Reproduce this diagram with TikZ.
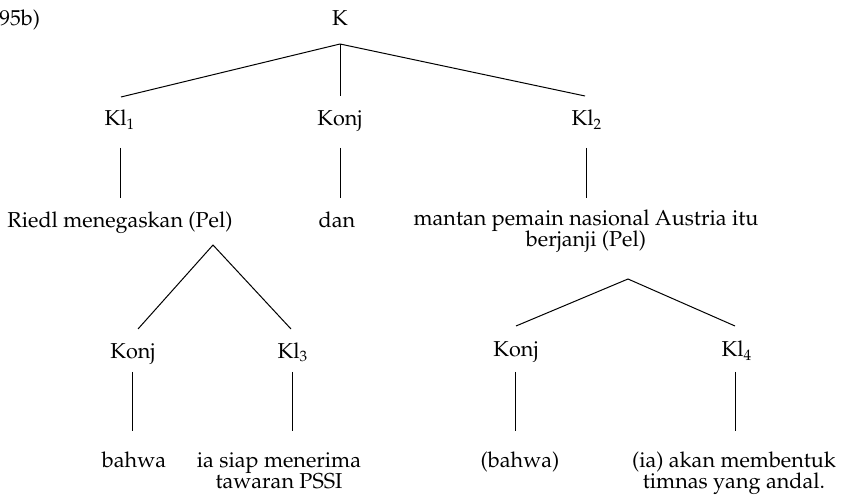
\documentclass[tikz,border=0pt]{standalone}
\usepackage[T1]{fontenc}
\renewcommand\rmdefault{ppl}
\usetikzlibrary{calc}
\lineskiplimit=-100pt
\begin{document}
\begin{tikzpicture}[x=0.5pt,y=-0.5pt,
  lab/.style={inner sep=0pt, anchor=base, font=\fontsize{10.8}{10.5}\selectfont},
  two/.style={lab, align=center},
  edge/.style={line width=0.5pt}]
\useasboundingbox (0,0) rectangle (841,497);
\node[lab, anchor=base west] (ex) at (-1,26) {95b)};
\node[lab] (K) at (340,26) {K};
\node[lab] (Kl1) at (120,126) {Kl\textsubscript{1}};
\node[lab] (Konj1) at (340,126) {Konj};
\node[lab] (Kl2) at (587,126) {Kl\textsubscript{2}};
\node[lab] (R1) at (120,228) {Riedl menegaskan (Pel)};
\node[lab] (dan) at (337,228) {dan};
\node[two] (A2) at (586,247) {mantan pemain nasional Austria itu\\berjanji (Pel)};
\node[lab] (Konj2) at (133,358) {Konj};
\node[lab] (Kl3) at (293,358) {Kl\textsubscript{3}};
\node[lab] (Konj3) at (516,357) {Konj};
\node[lab] (Kl4) at (737,357) {Kl\textsubscript{4}};
\node[lab] (b1) at (134,467) {bahwa};
\node[two] (c1) at (279,488) {ia siap menerima\\tawaran PSSI};
\node[lab] (b2) at (520,467) {(bahwa)};
\node[two] (c2) at (734,488) {(ia) akan membentuk\\timnas yang andal.};
% top
\coordinate (apex) at ($(K.base)+(0,18)$);
\draw[edge] (apex) -- ($(Kl1.base)+(1,-29)$);
\draw[edge] (apex) -- ($(Konj1.base)+(0,-30)$);
\draw[edge] (apex) -- ($(Kl2.base)+(-2,-30)$);
\draw[edge] ($(Kl1.base)+(0,22)$) -- ($(Kl1.base|-R1.base)+(0,-30)$);
\draw[edge] ($(Konj1.base)+(0,22)$) -- ($(Konj1.base|-dan.base)+(0,-30)$);
\draw[edge] ($(Kl2.base)+(-1,22)$) -- ($(Kl2.base|-R1.base)+(-1,-30)$);
% Riedl triangle
\draw[edge] ($(Konj2.base)+(5,-29)$) -- ($(R1.base)+(93,17)$) -- ($(Kl3.base)+(-2,-29)$);
% Austria triangle
\draw[edge] ($(Konj3.base)+(0,-31)$) -- ($(Kl2.base|-A2.base)+(41,32)$) -- ($(Kl4.base)+(-2,-31)$);
% bottom
\draw[edge] ($(Konj2.base)+(-1,14)$) -- ($(Konj2.base|-b1.base)+(-1,-36)$);
\draw[edge] ($(Kl3.base)+(-1,14)$) -- ($(Kl3.base|-b1.base)+(-1,-36)$);
\draw[edge] ($(Konj3.base)+(-1,15)$) -- ($(Konj3.base|-b2.base)+(-1,-36)$);
\draw[edge] ($(Kl4.base)+(-2,15)$) -- ($(Kl4.base|-b2.base)+(-2,-36)$);
\end{tikzpicture}
\end{document}
